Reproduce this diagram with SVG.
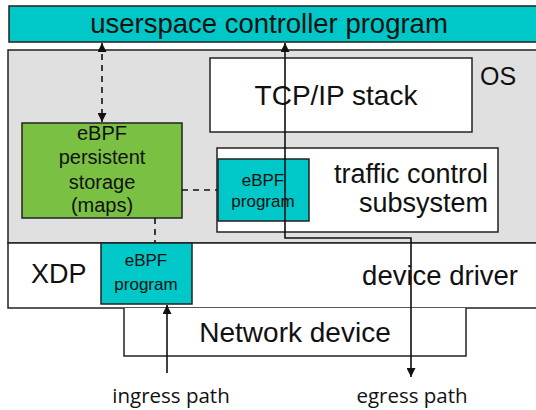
<svg xmlns="http://www.w3.org/2000/svg" width="536" height="410" viewBox="0 0 536 410">
<defs>
<style>
.b{stroke:#222;stroke-width:1.5}
.t{font-family:"Liberation Sans",Arial,sans-serif;fill:#111}
.c{stroke:#111;stroke-width:1.6;fill:none}
.d{stroke:#111;stroke-width:1.6;fill:none;stroke-dasharray:6,5}
.p{font-family:"Open Sans","Liberation Sans",sans-serif;fill:#111;font-size:20.5px}
</style>
<marker id="ah" viewBox="0 0 10 10" refX="10" refY="5" markerWidth="9" markerHeight="9" markerUnits="userSpaceOnUse" orient="auto-start-reverse">
<path d="M0,0 L10,5 L0,10 z" fill="#111"/>
</marker>
</defs>
<rect width="536" height="410" fill="#fff"/>
<g id="userspace">
<rect class="b" x="9" y="6" width="540" height="36" fill="#00C8C8"/>
<text class="t" x="269" y="33" font-size="27.5" text-anchor="middle">userspace controller program</text>
</g>
<g id="os">
<rect class="b" x="8" y="50" width="540" height="193" fill="#E0E0E0"/>
<text class="t" x="480" y="85" font-size="25">OS</text>
</g>
<g id="tcpip">
<rect class="b" x="210" y="58" width="262" height="74" fill="#fff"/>
<text class="t" x="336" y="105" font-size="28" text-anchor="middle">TCP/IP stack</text>
</g>
<g id="maps">
<rect class="b" x="22" y="123" width="160" height="95" fill="#7AC143"/>
<text class="t" font-size="20" text-anchor="middle"><tspan x="102" y="140">eBPF</tspan><tspan x="102" y="164">persistent</tspan><tspan x="102" y="189">storage</tspan><tspan x="102" y="212">(maps)</tspan></text>
</g>
<g id="tc">
<rect class="b" x="217" y="148" width="281" height="84" fill="#fff"/>
<text class="t" font-size="27" text-anchor="end"><tspan x="488" y="183">traffic control</tspan><tspan x="488" y="212">subsystem</tspan></text>
</g>
<g id="tc-prog">
<rect class="b" x="218" y="159" width="91" height="62" fill="#00C8C8"/>
<text class="t" font-size="17" text-anchor="middle"><tspan x="263" y="186">eBPF</tspan><tspan x="263" y="207">program</tspan></text>
</g>
<g id="driver">
<rect class="b" x="8" y="243" width="540" height="65" fill="#fff"/>
<text class="t" x="31" y="283" font-size="27">XDP</text>
<text class="t" x="518" y="285" font-size="27.5" text-anchor="end">device driver</text>
</g>
<g id="xdp-prog">
<rect class="b" x="101" y="243" width="91" height="61" fill="#00C8C8"/>
<text class="t" font-size="17" text-anchor="middle"><tspan x="146" y="266">eBPF</tspan><tspan x="146" y="290">program</tspan></text>
</g>
<g id="netdev">
<path class="b" d="M124,308 V356 H466 V308" fill="#fff"/>
<text class="t" x="295" y="342" font-size="28" text-anchor="middle">Network device</text>
</g>
<g id="connectors">
<line class="d" x1="102" y1="43" x2="102" y2="122" marker-start="url(#ah)" marker-end="url(#ah)"/>
<line class="d" x1="182" y1="190" x2="217" y2="190"/>
<line class="d" x1="155" y1="218" x2="155" y2="243"/>
<polyline class="c" points="411,377 411,238 285,238 285,43" marker-start="url(#ah)" marker-end="url(#ah)"/>
<line class="c" x1="167" y1="373" x2="167" y2="305" marker-end="url(#ah)"/>
</g>
<text class="p" x="171" y="403" text-anchor="middle">ingress path</text>
<text class="p" x="412" y="403" text-anchor="middle">egress path</text>
</svg>
